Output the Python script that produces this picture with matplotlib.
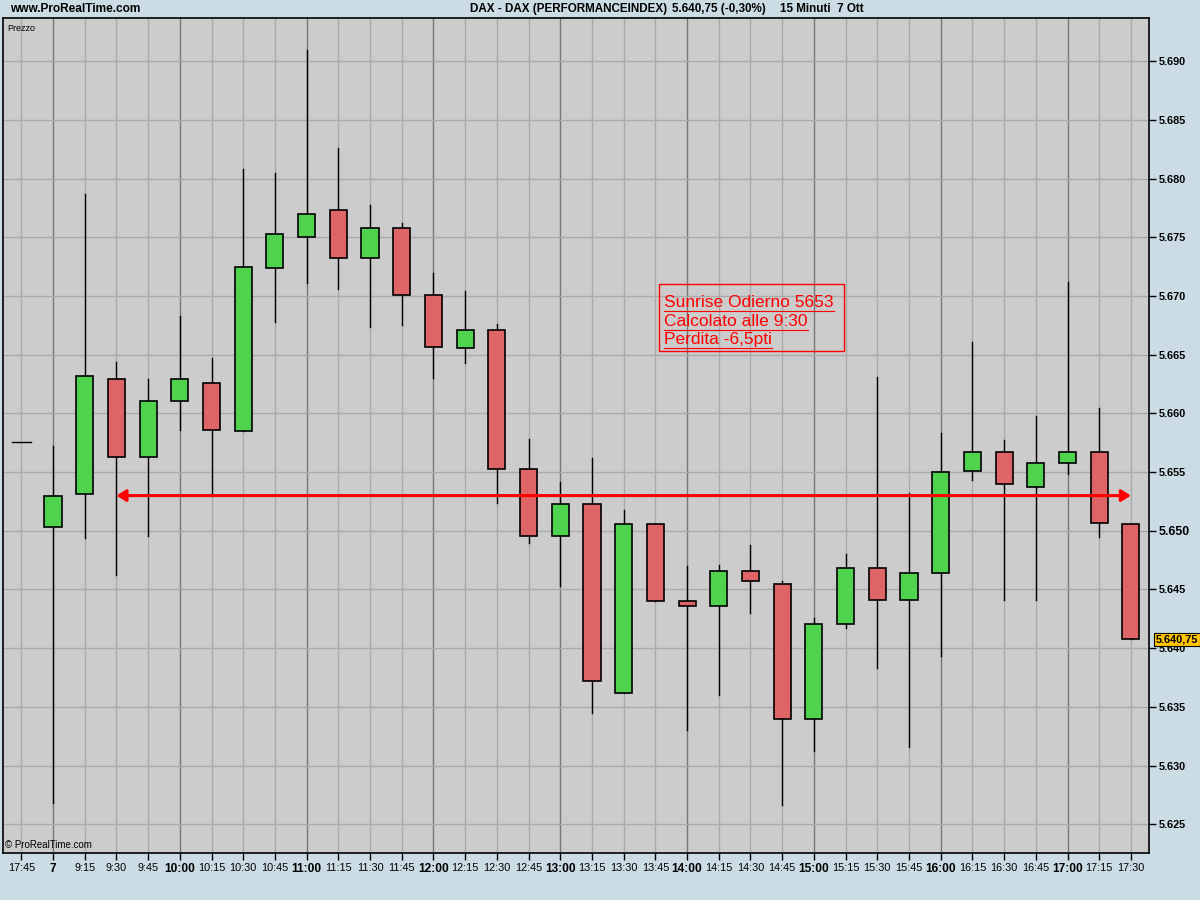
import matplotlib
matplotlib.use('Agg')
import matplotlib.pyplot as plt
from matplotlib.patches import Rectangle
from matplotlib.lines import Line2D

plt.rcParams['font.family'] = ['Liberation Sans', 'DejaVu Sans']

# time slots (first one is the previous session close)
times = ["17:45", "7", "9:15", "9:30", "9:45", "10:00", "10:15", "10:30", "10:45",
         "11:00", "11:15", "11:30", "11:45", "12:00", "12:15", "12:30", "12:45",
         "13:00", "13:15", "13:30", "13:45", "14:00", "14:15", "14:30", "14:45",
         "15:00", "15:15", "15:30", "15:45", "16:00", "16:15", "16:30", "16:45",
         "17:00", "17:15", "17:30"]
opens = [5657.6, 5650.3, 5653.1, 5662.9, 5656.3, 5661.1, 5662.6, 5658.5, 5672.4,
         5675.0, 5677.3, 5673.2, 5675.8, 5670.1, 5665.6, 5667.1, 5655.3,
         5649.6, 5652.3, 5636.2, 5650.6, 5644.0, 5643.6, 5646.6, 5645.5,
         5634.0, 5642.1, 5646.8, 5644.1, 5646.4, 5655.1, 5656.7, 5653.7,
         5655.8, 5656.7, 5650.6]
highs = [5657.6, 5657.2, 5678.7, 5664.4, 5662.9, 5668.3, 5664.7, 5680.8, 5680.5,
         5691.0, 5682.6, 5677.8, 5676.2, 5672.0, 5670.4, 5667.6, 5657.8,
         5654.2, 5656.2, 5651.8, 5650.6, 5647.0, 5647.1, 5648.8, 5645.7,
         5642.6, 5648.0, 5663.1, 5653.2, 5658.3, 5666.1, 5657.7, 5659.8,
         5671.2, 5660.5, 5650.6]
lows = [5657.6, 5626.8, 5649.4, 5646.2, 5649.6, 5658.6, 5653.0, 5658.5, 5667.8,
        5671.1, 5670.6, 5667.4, 5667.5, 5663.0, 5664.3, 5652.4, 5649.0,
        5645.3, 5634.5, 5636.2, 5644.0, 5633.0, 5636.0, 5643.0, 5626.6,
        5631.2, 5641.7, 5638.3, 5631.6, 5639.3, 5654.3, 5644.1, 5644.1,
        5654.8, 5649.5, 5640.75]
closes = [5657.6, 5653.0, 5663.2, 5656.3, 5661.1, 5662.9, 5658.6, 5672.5, 5675.3,
          5677.0, 5673.2, 5675.8, 5670.1, 5665.7, 5667.1, 5655.3, 5649.6,
          5652.3, 5637.2, 5650.6, 5644.0, 5643.6, 5646.6, 5645.7, 5634.0,
          5642.1, 5646.8, 5644.1, 5646.4, 5655.0, 5656.7, 5654.0, 5655.8,
          5656.7, 5650.7, 5640.75]

yticks = [5625, 5630, 5635, 5640, 5645, 5650, 5655, 5660, 5665, 5670, 5675, 5680, 5685, 5690]
sunrise_level = 5653
arrow_from, arrow_to = "9:30", "17:30"
last_price_label = "5.640,75"
note_lines = ["Sunrise Odierno 5653", "Calcolato alle 9:30", "Perdita -6,5pti"]

GREEN = '#4fd34f'
RED = '#de6565'
BG = '#cbdce5'

fig = plt.figure(figsize=(12, 9), dpi=100, facecolor=BG)
ax = fig.add_axes([3/1200, 1 - 853/900, 1146/1200, 835/900])
ax.set_facecolor('#cccccc')

n = len(times)
ax.set_xlim(-0.577, 35.57)
ax.set_ylim(5622.55, 5693.69)

# grid
for i, t in enumerate(times):
    hour = (":" not in t) or t.endswith(":00")
    if i == 0:
        hour = False
    ax.axvline(i, color='#777777' if hour else '#aaaaaa', lw=1.0, zorder=0)
for v in yticks:
    ax.axhline(v, color='#aaaaaa', lw=1.0, zorder=0)

# candles
w = 0.54
for i in range(n):
    o, h, l, c = opens[i], highs[i], lows[i], closes[i]
    if i == 0:
        ax.plot([i - 0.3, i + 0.3], [c, c], color='black', lw=1.0, zorder=3)
        continue
    ax.plot([i, i], [l, h], color='black', lw=1.0, zorder=2)
    col = GREEN if c >= o else RED
    ax.add_patch(Rectangle((i - w/2, min(o, c)), w, abs(c - o), facecolor=col,
                           edgecolor='black', lw=1.2, zorder=3))

# sunrise arrow
ax.annotate('', xy=(times.index(arrow_to), sunrise_level),
            xytext=(times.index(arrow_from), sunrise_level),
            arrowprops=dict(arrowstyle='<|-|>,head_length=0.4,head_width=0.25',
                            color='#ff0000', lw=2.2, shrinkA=0, shrinkB=0,
                            mutation_scale=14), zorder=5)

# axes styling
for s in ax.spines.values():
    s.set_color('black')
    s.set_linewidth(1.2)
ax.yaxis.tick_right()
ax.set_yticks(yticks)
ax.set_yticklabels([f"{v/1000:.3f}" for v in yticks])
for lab, v in zip(ax.get_yticklabels(), yticks):
    lab.set_fontweight('bold')
    lab.set_fontsize(8.8 if v == 5650 else 7.8)
ax.tick_params(axis='y', length=5, width=1, pad=2, colors='black')

ax.set_xticks(range(n))
ax.set_xticklabels(times)
for i, lab in enumerate(ax.get_xticklabels()):
    t = times[i]
    if i > 0 and ((":" not in t) or t.endswith(":00")):
        lab.set_fontweight('bold')
        lab.set_fontsize(8.6)
    else:
        lab.set_fontsize(7.8)
ax.tick_params(axis='x', length=5, width=1, pad=2, colors='black')

# last price tag
ax.annotate(last_price_label, xy=(1, closes[-1]), xycoords=('axes fraction', 'data'),
            xytext=(5, 0), textcoords='offset points', va='center', ha='left',
            fontsize=7.8, fontweight='bold', color='black',
            bbox=dict(boxstyle='square,pad=0.15', facecolor='#ffc400',
                      edgecolor='black', lw=0.8), annotation_clip=False, zorder=10)

# texts
ax.text(0.004, 0.993, "Prezzo", transform=ax.transAxes, fontsize=6.5, va='top', ha='left')
ax.text(0.002, 0.004, "\u00a9 ProRealTime.com", transform=ax.transAxes, fontsize=7,
        va='bottom', ha='left')
fig.text(10/1200, 1 - 9/900, "www.ProRealTime.com", fontsize=8.6, fontweight='bold',
         va='center', ha='left')
fig.text(470/1200, 1 - 9/900, "DAX - DAX (PERFORMANCEINDEX)", fontsize=8.4,
         fontweight='bold', va='center', ha='left')
fig.text(672/1200, 1 - 9/900, "5.640,75 (-0,30%)", fontsize=8.4,
         fontweight='bold', va='center', ha='left')
fig.text(780/1200, 1 - 9/900, "15 Minuti  7 Ott", fontsize=8.4,
         fontweight='bold', va='center', ha='left')

# annotation box with underlined red lines
fig.add_artist(Rectangle((659/1200, 1 - 351/900), 185/1200, 67/900, fill=False,
                         edgecolor='#ff0000', lw=1.0, transform=fig.transFigure))
baselines = [307, 325.5, 344]
texts = []
for line, b in zip(note_lines, baselines):
    texts.append(fig.text(664/1200, 1 - b/900, line, fontsize=12.5, color='#ff0000',
                          va='baseline', ha='left'))
fig.canvas.draw()
for tx, b in zip(texts, baselines):
    bb = tx.get_window_extent()
    uy = 1 - (b + 4) / 900
    fig.add_artist(Line2D([bb.x0 / 1200, bb.x1 / 1200], [uy, uy], color='#ff0000',
                          lw=0.8, transform=fig.transFigure))

fig.savefig('out.png', dpi=100, facecolor=BG)
